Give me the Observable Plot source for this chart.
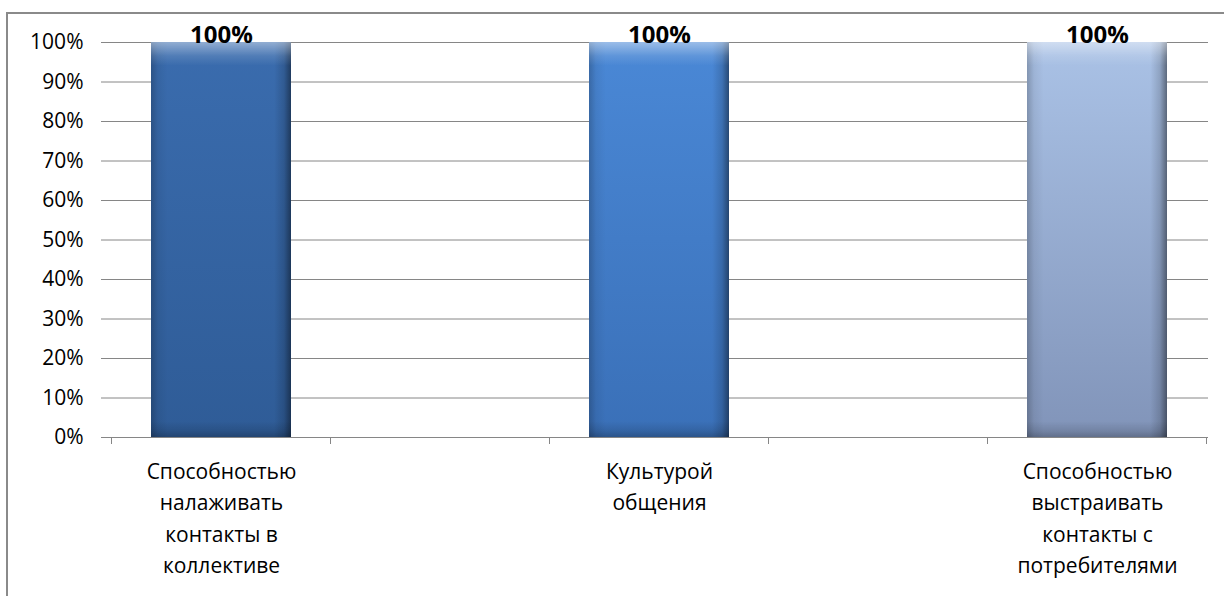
<!DOCTYPE html>
<html>
<head>
<meta charset="utf-8">
<script src="https://cdn.jsdelivr.net/npm/d3@7"></script>
<script src="https://cdn.jsdelivr.net/npm/@observablehq/plot@0.6"></script>
<style>
  html, body { margin: 0; padding: 0; background: #fff; }
  #wrap { position: relative; width: 1224px; height: 596px; overflow: hidden; }
  #frame { position: absolute; left: 6px; top: 12px; width: 1300px; height: 700px;
           border-left: 2px solid #8a8a8a; border-top: 2px solid #8a8a8a; box-sizing: border-box; }
  #wrap svg { position: absolute; left: 0; top: 0; }
</style>
</head>
<body>
<div id="wrap"><div id="frame"></div></div>
<script>
// ---- data ----
const categories = [
  "Способностью налаживать контакты в коллективе",
  "Культурой общения",
  "Способностью выстраивать контакты с потребителями"
];
const axisLabels = [
  "Способностью\nналаживать\nконтакты в\nколлективе",
  "Культурой\nобщения",
  "Способностью\nвыстраивать\nконтакты с\nпотребителями"
];
const values = [1, 1, 1];
const valueLabels = ["100%", "100%", "100%"];
const gaps = ["gap1", "gap2"];
const yTicks = [0, 0.1, 0.2, 0.3, 0.4, 0.5, 0.6, 0.7, 0.8, 0.9, 1];
const barBase = [
  ["#3a6cae", "#2f5c97"],
  ["#4a88d6", "#3a70b8"],
  ["#aac2e6", "#8194b9"]
];

const data = categories.map((c, i) => ({
  cat: c, value: values[i], label: valueLabels[i],
  base: `url(#base${i})`
}));
const domain = [categories[0], gaps[0], categories[1], gaps[1], categories[2]];
const labelOf = new Map(categories.map((c, i) => [c, axisLabels[i]]));

const font = "'Open Sans', 'DejaVu Sans', sans-serif";

const boundaryTicks = () => (index, scales, values, dims) => {
  const x = scales.x;
  const step = x.step ? x.step() : x.bandwidth() / (1 - 0.36);
  const off = (step - x.bandwidth()) / 2;
  const xs = domain.map(d => x(d) - off).concat([x(domain[domain.length - 1]) + x.bandwidth() + off]);
  const g = d3.create("svg:g");
  const y0 = dims.height - dims.marginBottom;
  xs.forEach(px => {
    g.append("line").attr("x1", px).attr("x2", px).attr("y1", y0).attr("y2", y0 + 7)
      .attr("stroke", "#868686").attr("stroke-width", 1);
  });
  return g.node();
};

const chart = Plot.plot({
  width: 1224,
  height: 596,
  marginLeft: 110,
  marginRight: 16,
  marginTop: 42,
  marginBottom: 159,
  style: { fontFamily: font, fontSize: "21px", color: "#000", background: "transparent" },
  x: { domain, paddingInner: 0.36, paddingOuter: 0.18, axis: null, label: null },
  y: { domain: [0, 1], axis: null, label: null },
  color: { type: "identity" },
  marks: [
    Plot.gridY(yTicks, { stroke: "#868686", strokeOpacity: 1, strokeWidth: 1 }),
    Plot.ruleY([0], { stroke: "#868686", strokeWidth: 1 }),
    Plot.axisY(yTicks, {
      tickFormat: d => `${Math.round(d * 100)}%`,
      tickSize: 9, tickPadding: 18, stroke: "#868686",
      fontSize: 21, fill: "#000", label: null
    }),
    Plot.axisX(domain, {
      tickFormat: d => labelOf.get(d) ?? "",
      tickSize: 0, tickPadding: 19, lineHeight: 1.5,
      fontSize: 21, fill: "#000", textAnchor: "middle", label: null
    }),
    boundaryTicks(),
    Plot.barY(data, { x: "cat", y: "value", fill: "base", style: "filter:url(#shadow)" }),
    Plot.barY(data, { x: "cat", y: "value", fill: "url(#edgeH)" }),
    Plot.barY(data, { x: "cat", y: "value", fill: "url(#edgeV)" }),
    Plot.text(data, {
      x: "cat", y: "value", text: "label", dy: -7,
      fontWeight: "bold", fontSize: 24, fill: "#000"
    })
  ]
});

// gradient definitions used by the bars
const svg = d3.select(chart);
const defs = svg.insert("defs", ":first-child");
barBase.forEach(([top, bottom], i) => {
  const g = defs.append("linearGradient").attr("id", `base${i}`)
    .attr("x1", 0).attr("y1", 0).attr("x2", 0).attr("y2", 1);
  g.append("stop").attr("offset", 0).attr("stop-color", top);
  g.append("stop").attr("offset", 1).attr("stop-color", bottom);
});
const h = defs.append("linearGradient").attr("id", "edgeH")
  .attr("x1", 0).attr("y1", 0).attr("x2", 1).attr("y2", 0);
[[0, "#000", 0.22], [0.05, "#000", 0.06], [0.12, "#000", 0], [0.88, "#000", 0],
 [0.95, "#000", 0.15], [1, "#000", 0.45]].forEach(([o, c, a]) =>
  h.append("stop").attr("offset", o).attr("stop-color", c).attr("stop-opacity", a));
const v = defs.append("linearGradient").attr("id", "edgeV")
  .attr("x1", 0).attr("y1", 0).attr("x2", 0).attr("y2", 1);
[[0, "#fff", 0.45], [0.035, "#fff", 0.12], [0.06, "#fff", 0], [0.96, "#000", 0],
 [0.985, "#000", 0.12], [1, "#000", 0.25]].forEach(([o, c, a]) =>
  v.append("stop").attr("offset", o).attr("stop-color", c).attr("stop-opacity", a));
const f = defs.append("filter").attr("id", "shadow")
  .attr("x", "-10%").attr("y", "-5%").attr("width", "125%").attr("height", "115%");
f.append("feDropShadow").attr("dx", 2).attr("dy", 2).attr("stdDeviation", 2)
  .attr("flood-color", "#000").attr("flood-opacity", 0.35);

document.getElementById("wrap").appendChild(chart);
</script>
</body>
</html>
